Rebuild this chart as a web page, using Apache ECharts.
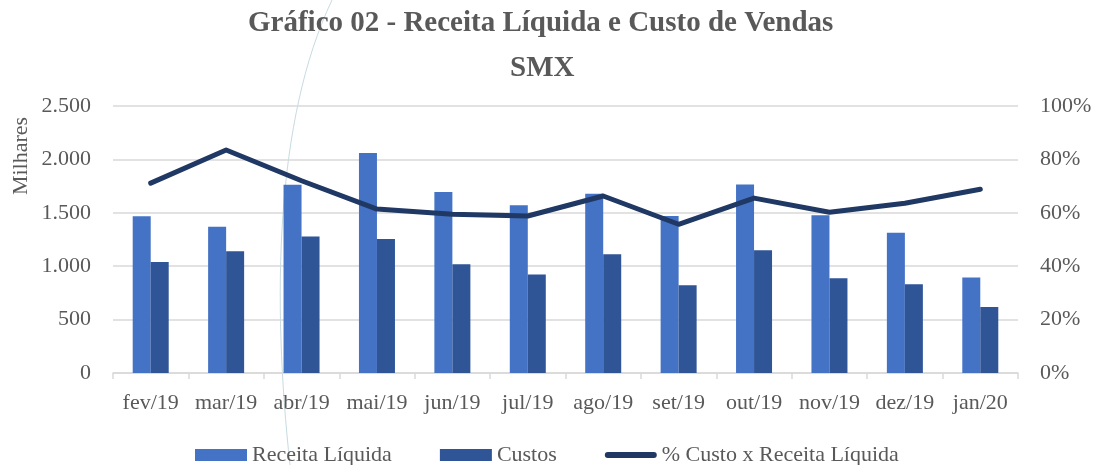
<!DOCTYPE html>
<html>
<head>
<meta charset="utf-8">
<script src="https://cdn.jsdelivr.net/npm/echarts@6/dist/echarts.min.js"></script>
<style>
html,body{margin:0;padding:0;background:#fff;}
#c{width:1099px;height:465px;}
</style>
</head>
<body>
<div id="c"></div>
<script>
var categories = ['fev/19','mar/19','abr/19','mai/19','jun/19','jul/19','ago/19','set/19','out/19','nov/19','dez/19','jan/20'];
var receita = [1467, 1370, 1763, 2059, 1694, 1570, 1679, 1470, 1766, 1477, 1314, 894];
var custos = [1040, 1140, 1277, 1255, 1019, 922, 1112, 822, 1150, 888, 832, 617];
var pctCusto = [0.711, 0.835, 0.72, 0.614, 0.595, 0.588, 0.663, 0.557, 0.655, 0.602, 0.636, 0.688];
var leftTicks = {min: 0, max: 2500, interval: 500};
var rightTicks = {min: 0, max: 1, interval: 0.2};

var FONT = 'Liberation Serif';
var GREY = '#595959';
var GRID = '#d9d9d9';
var titleStyle = {fontFamily: FONT, fontWeight: 'bold', fontSize: 29, color: GREY};

var chart = echarts.init(document.getElementById('c'), null, {renderer: 'canvas'});
chart.setOption({
  animation: false,
  backgroundColor: '#fff',
  title: [
    {text: 'Gráfico 02 - Receita Líquida e Custo de Vendas', left: 248, top: 9, padding: 0, textStyle: titleStyle},
    {text: 'SMX', left: 510, top: 54, padding: 0, textStyle: titleStyle}
  ],
  graphic: [
    {
      type: 'bezierCurve', z: -10, silent: true,
      shape: {x1: 332, y1: 0, cpx1: 275, cpy1: 120, cpx2: 272, cpy2: 300, x2: 290, y2: 465},
      style: {stroke: '#c7dbe2', lineWidth: 1, fill: null}
    },
    {
      type: 'text', x: 21, y: 156, rotation: Math.PI / 2,
      style: {text: 'Milhares', fontFamily: FONT, fontSize: 22, fill: GREY, align: 'center', verticalAlign: 'middle'}
    }
  ],
  legend: {
    top: 439,
    left: 190,
    itemWidth: 52,
    itemHeight: 12,
    itemGap: 48,
    textStyle: {fontFamily: FONT, fontSize: 22, color: GREY},
    data: [
      {name: 'Receita Líquida', icon: 'rect'},
      {name: 'Custos', icon: 'rect'},
      {name: '% Custo x Receita Líquida', icon: 'path://M3,0 L49,0 A3,3 0 0 1 49,6 L3,6 A3,3 0 0 1 3,0 Z'}
    ]
  },
  grid: {left: 113, right: 81, top: 106, bottom: 92, containLabel: false},
  xAxis: {
    type: 'category',
    data: categories,
    boundaryGap: true,
    axisLine: {lineStyle: {color: GRID, width: 1.5}},
    axisTick: {show: true, length: 6, lineStyle: {color: GRID, width: 1.5}},
    axisLabel: {fontFamily: FONT, fontSize: 22, color: GREY, margin: 19, interval: 0}
  },
  yAxis: [
    {
      type: 'value',
      min: leftTicks.min, max: leftTicks.max, interval: leftTicks.interval,
      axisLine: {show: false},
      axisTick: {show: false},
      splitLine: {lineStyle: {color: GRID, width: 1.5}},
      axisLabel: {
        fontFamily: FONT, fontSize: 22, color: GREY, margin: 22,
        formatter: function (v) { return v.toLocaleString('de-DE'); }
      }
    },
    {
      type: 'value',
      min: rightTicks.min, max: rightTicks.max, interval: rightTicks.interval,
      axisLine: {show: false},
      axisTick: {show: false},
      splitLine: {show: false},
      axisLabel: {
        fontFamily: FONT, fontSize: 22, color: GREY, margin: 22,
        formatter: function (v) { return Math.round(v * 100) + '%'; }
      }
    }
  ],
  series: [
    {
      name: 'Receita Líquida', type: 'bar', data: receita, yAxisIndex: 0,
      barWidth: 18, barGap: '0%',
      itemStyle: {color: '#4472C4'}
    },
    {
      name: 'Custos', type: 'bar', data: custos, yAxisIndex: 0,
      barWidth: 18, barGap: '0%',
      itemStyle: {color: '#2F5597'}
    },
    {
      name: '% Custo x Receita Líquida', type: 'line', data: pctCusto, yAxisIndex: 1,
      symbol: 'none', showSymbol: false,
      lineStyle: {color: '#203864', width: 5, cap: 'round', join: 'round'},
      itemStyle: {color: '#203864'}
    }
  ]
});
</script>
</body>
</html>
